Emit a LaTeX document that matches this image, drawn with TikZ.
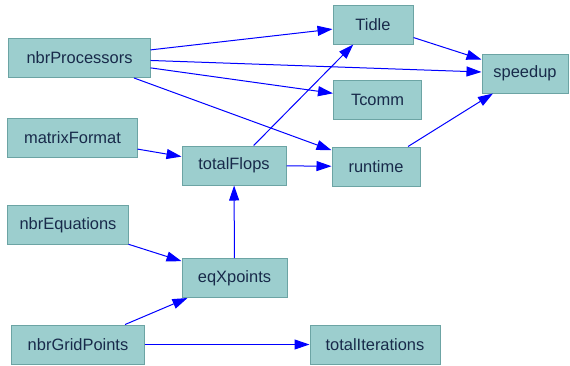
\documentclass[tikz,border=0pt]{standalone}
\usepackage{fontspec}
\setmainfont{Liberation Sans}
\usetikzlibrary{arrows.meta}
\definecolor{boxfill}{RGB}{156,206,206}
\definecolor{boxline}{RGB}{108,164,164}
\definecolor{boxtext}{RGB}{24,42,74}

\begin{document}
\begin{tikzpicture}[x=1bp,y=-1bp]
	\useasboundingbox (0,0) rectangle (570,365);
	\tikzstyle{VertexStyle}=[draw=boxline,fill=boxfill,text=boxtext,line width=1bp,
		minimum height=39bp,inner sep=0pt,font=\fontsize{16.5}{19}\selectfont]
	\tikzstyle{EdgeStyle}=[blue,line width=1bp,-{Triangle[length=15bp,width=10bp]}]
	% inputs on the left
	\node[VertexStyle,minimum width=141bp] (nbrProcessors) at (79.5,58) {nbrProcessors};
	\node[VertexStyle,minimum width=129bp] (matrixFormat) at (72.5,138) {matrixFormat};
	\node[VertexStyle,minimum width=120bp] (nbrEquations) at (68,225) {nbrEquations};
	\node[VertexStyle,minimum width=132bp] (nbrGridPoints) at (78,344.5) {nbrGridPoints};
	% middle column
	\node[VertexStyle,minimum width=104bp] (totalFlops) at (234,165.5) {totalFlops};
	\node[VertexStyle,minimum width=105bp] (eqXpoints) at (234.5,278) {eqXpoints};
	% right column
	\node[VertexStyle,minimum width=80bp] (Tidle) at (373,24.5) {Tidle};
	\node[VertexStyle,minimum width=88bp] (Tcomm) at (377.5,99.5) {Tcomm};
	\node[VertexStyle,minimum width=88bp] (runtime) at (376,166.5) {runtime};
	\node[VertexStyle,minimum width=130bp] (totalIterations) at (375,344.5) {totalIterations};
	\node[VertexStyle,minimum width=86bp] (speedup) at (525,73.5) {speedup};
	% dependencies
	\draw[EdgeStyle] (nbrProcessors) -- (Tidle);
	\draw[EdgeStyle] (nbrProcessors) -- (speedup);
	\draw[EdgeStyle] (nbrProcessors) -- (Tcomm);
	\draw[EdgeStyle] (nbrProcessors) -- (runtime);
	\draw[EdgeStyle] (Tidle) -- (speedup);
	\draw[EdgeStyle] (runtime) -- (speedup);
	\draw[EdgeStyle] (matrixFormat) -- (totalFlops);
	\draw[EdgeStyle] (totalFlops) -- (runtime);
	\draw[EdgeStyle] (totalFlops) -- (Tidle);
	\draw[EdgeStyle] (nbrEquations) -- (eqXpoints);
	\draw[EdgeStyle] (eqXpoints) -- (totalFlops);
	\draw[EdgeStyle] (nbrGridPoints) -- (eqXpoints);
	\draw[EdgeStyle] (nbrGridPoints) -- (totalIterations);
\end{tikzpicture}
\end{document}
